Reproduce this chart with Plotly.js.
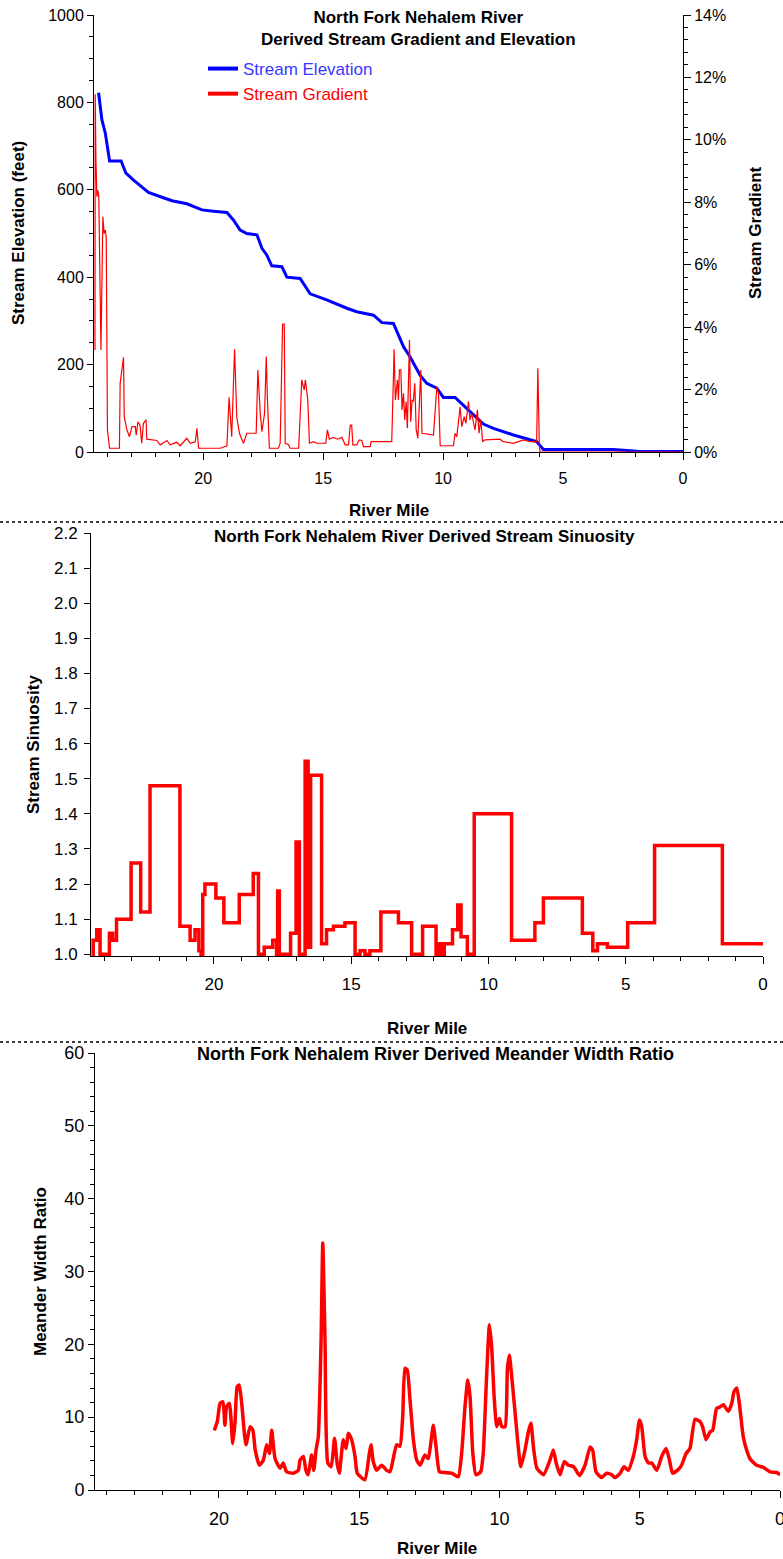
<!DOCTYPE html>
<html><head><meta charset="utf-8">
<script src="https://cdn.plot.ly/plotly-3.0.1.min.js"></script>
<style>html,body{margin:0;padding:0;background:#fff}#chart{width:783px;height:1559px}</style>
</head><body><div id="chart"></div>
<script>
// ---- Chart 1: elevation (feet) and gradient (%) vs river mile ----
const elevRM = [24.36,24.22,24.08,23.9,23.42,23.22,22.9,22.55,22.28,21.72,21.3,20.68,20.33,20.05,19.57,19.01,18.74,18.46,18.18,17.76,17.55,17.35,17.14,16.72,16.51,15.96,15.54,14.85,14.01,13.6,12.9,12.55,12.07,11.79,11.65,11.38,10.96,10.68,10.26,9.99,9.5,8.94,8.32,7.9,7.07,6.1,5.82,2.9,1.93,0];
const elevFt = [822,760,730,666,666,638,622,607,594,583,575,568,561,554,551,548,531,508,500,497,466,451,426,424,400,397,362,348,329,321,313,296,294,260,241,218,176,157,146,125,125,96,64,54,39,24,6,6,2,1];

const gradRM = [24.51,24.50,24.47,24.43,24.39,24.35,24.26,24.18,24.13,24.08,24.04,23.99,23.90,23.49,23.46,23.32,23.29,23.18,23.07,22.97,22.83,22.79,22.72,22.63,22.56,22.49,22.38,22.35,21.93,21.79,21.51,21.38,21.10,20.96,20.68,20.54,20.33,20.26,20.19,19.29,19.01,18.92,18.81,18.69,18.60,18.49,18.32,18.18,17.79,17.72,17.62,17.55,17.44,17.37,17.32,17.24,16.86,16.79,16.69,16.62,16.58,16.44,16.38,16.02,15.89,15.79,15.74,15.64,15.57,15.40,15.26,14.89,14.82,14.74,14.57,14.40,14.22,14.08,13.94,13.87,13.81,13.76,13.60,13.49,13.39,13.32,13.04,13.00,12.14,12.04,11.99,11.90,11.86,11.82,11.76,11.71,11.65,11.60,11.54,11.49,11.40,11.35,11.29,11.24,11.18,11.12,11.05,10.99,10.93,10.88,10.40,10.26,10.19,10.12,9.57,9.50,9.43,9.29,9.22,9.12,9.05,8.94,8.88,8.81,8.67,8.57,8.50,8.43,8.35,8.25,7.63,7.49,7.07,6.65,6.38,6.10,6.05,5.99,5.96,0];
const gradPct = [3.27,11.46,9.36,8.18,8.39,8.18,3.27,7.54,7.0,7.11,6.89,0.71,0.12,0.12,2.2,3.03,1.13,0.71,0.49,0.81,0.81,0.54,0.97,0.86,0.28,0.92,1.03,0.41,0.37,0.23,0.37,0.23,0.31,0.2,0.44,0.28,0.33,0.76,0.12,0.12,0.2,1.75,0.49,3.29,1.13,0.6,0.28,0.6,0.6,2.63,1.24,0.65,1.24,3.06,1.67,0.12,0.12,0.28,4.1,4.1,0.28,0.23,0.12,0.12,2.31,1.99,2.31,1.67,0.28,0.33,0.28,0.28,0.71,0.41,0.47,0.41,0.47,0.23,0.23,0.86,0.86,0.23,0.23,0.39,0.37,0.17,0.17,0.33,0.33,3.29,1.67,2.31,1.67,2.63,2.63,1.35,1.88,1.03,1.62,0.76,3.59,0.97,1.67,1.62,2.2,0.71,0.44,1.56,2.63,0.6,0.54,2.09,1.88,0.2,0.2,0.6,0.49,1.45,0.81,1.13,0.92,1.62,1.03,1.24,0.71,1.35,0.6,1.03,0.33,0.39,0.41,0.33,0.28,0.39,0.33,0.33,2.68,0.28,0.0,0.0];

// ---- Chart 2: sinuosity (step segments, start RM of each segment) ----
const sinRM = [24.46,24.40,24.27,24.15,23.81,23.69,23.55,23.02,22.67,22.33,21.24,20.87,20.69,20.55,20.47,20.41,20.33,19.93,19.64,19.08,18.57,18.38,18.17,17.86,17.72,17.68,17.62,17.21,17.01,16.89,16.68,16.63,16.60,16.57,16.54,16.51,16.48,16.08,15.90,15.65,15.23,14.86,14.68,14.50,14.32,13.92,13.28,12.80,12.40,11.91,11.79,11.71,11.61,11.31,11.12,11.00,10.77,10.52,9.16,8.31,8.00,6.58,6.20,6.03,5.67,4.93,3.95,1.48,0];
const sinVal = [1.00,1.04,1.07,1.00,1.06,1.04,1.10,1.26,1.12,1.48,1.08,1.04,1.07,1.01,1.00,1.17,1.20,1.16,1.09,1.17,1.23,1.00,1.02,1.04,1.00,1.18,1.00,1.06,1.32,1.00,1.55,1.02,1.55,1.02,1.50,1.02,1.51,1.03,1.07,1.08,1.09,1.00,1.01,1.00,1.01,1.12,1.09,1.00,1.08,1.00,1.03,1.00,1.03,1.07,1.14,1.05,1.00,1.40,1.04,1.09,1.16,1.06,1.01,1.03,1.02,1.09,1.31,1.03,1.03];

// ---- Chart 3: meander width ratio ----
const mwrRM = [20.17,20.06,19.96,19.86,19.79,19.73,19.63,19.51,19.43,19.35,19.28,19.19,19.04,18.89,18.79,18.71,18.56,18.42,18.30,18.20,18.12,18.00,17.82,17.71,17.59,17.35,17.17,17.11,16.99,16.90,16.82,16.70,16.62,16.54,16.46,16.36,16.30,16.22,16.12,16.00,15.88,15.79,15.71,15.57,15.47,15.39,15.27,15.15,15.07,14.80,14.64,14.58,14.50,14.38,14.20,14.02,13.90,13.67,13.55,13.45,13.37,13.29,13.19,13.07,12.95,12.83,12.66,12.54,12.45,12.36,12.26,12.14,11.94,11.70,11.47,11.35,11.23,11.13,11.05,10.95,10.84,10.67,10.58,10.46,10.36,10.28,10.19,10.10,10.00,9.92,9.80,9.72,9.65,9.53,9.41,9.24,9.09,8.97,8.88,8.79,8.67,8.43,8.22,8.08,7.98,7.84,7.69,7.54,7.36,7.15,6.95,6.77,6.68,6.56,6.36,6.18,6.00,5.88,5.70,5.56,5.41,5.23,5.11,5.01,4.93,4.81,4.69,4.57,4.39,4.22,4.06,3.94,3.83,3.63,3.51,3.35,3.21,3.03,2.85,2.76,2.64,2.49,2.40,2.26,2.14,2.02,1.84,1.72,1.64,1.54,1.45,1.31,1.19,1.07,0.83,0.59,0.36,0.12,0.0];
const mwrVal = [8.2,9.4,11.9,12.1,8.9,11.4,11.9,6.4,9.2,14.2,14.4,11.9,6.2,8.7,8.2,5.5,3.4,4.1,6.2,5.0,8.2,4.3,3.0,3.7,2.5,2.3,2.7,4.1,4.6,2.7,2.1,4.8,2.7,5.5,7.3,20.6,33.9,20.6,3.7,3.2,7.1,3.7,2.3,6.9,5.7,7.8,6.9,4.6,2.3,1.4,5.0,6.2,3.9,2.7,3.4,2.7,2.5,6.2,6.0,10.1,16.7,16.5,12.4,6.9,4.1,3.4,4.8,4.3,6.4,8.9,5.9,2.5,2.4,2.3,1.8,5.0,11.4,15.1,12.8,5.0,2.1,2.5,5.0,15.6,22.7,19.7,12.8,8.7,9.8,8.7,8.7,16.5,18.5,14.2,9.2,3.2,5.5,8.0,9.2,5.9,3.0,2.1,3.9,5.5,3.7,2.1,3.9,3.4,3.2,2.0,3.4,5.9,5.5,2.5,1.7,2.3,2.1,1.7,2.3,3.2,2.7,4.6,6.9,9.6,8.7,4.6,3.7,3.7,2.7,4.6,5.7,4.1,2.3,2.8,3.4,5.0,5.7,9.7,9.4,8.7,6.9,8.0,8.2,11.2,11.4,11.7,10.8,11.9,13.5,14.0,11.9,7.3,5.5,4.3,3.4,3.1,2.5,2.4,2.1];

// ---- text ----
const titleTop = 'North Fork Nehalem River<br>Derived Stream Gradient and Elevation';
const titleMid = 'North Fork Nehalem River Derived Stream Sinuosity';
const titleBot = 'North Fork Nehalem River Derived Meander Width Ratio';
const xTitle = 'River Mile';
const yTitleElev = 'Stream Elevation (feet)';
const yTitleGrad = 'Stream Gradient';
const yTitleSin = 'Stream Sinuosity';
const yTitleMwr = 'Meander Width Ratio';
const nameElev = 'Stream Elevation';
const nameGrad = 'Stream Gradient';
const riverMileTicks = [20,15,10,5,0];

const W = 783, H = 1559;
const fx = p => p / W;
const fy = p => 1 - p / H;
const FONT = '"Liberation Sans", Arial, sans-serif';
const RED = '#ff0000', BLUE = '#0000ff';

function ax(extra) {
  return Object.assign({
    showgrid:false, zeroline:false, showline:true, linecolor:'#000', linewidth:1,
    ticks:'outside', tickcolor:'#000', ticklen:6, tickwidth:1, ticklabeloverflow:'allow',
    tickfont:{family:FONT, size:16, color:'#000'}, fixedrange:true
  }, extra);
}
const minorX = {dtick:1, tick0:0, ticks:'outside', ticklen:4, tickcolor:'#000', showgrid:false};

const traces = [
  {x:gradRM, y:gradPct, xaxis:'x', yaxis:'y2', mode:'lines', line:{color:RED, width:1.2}, showlegend:false, hoverinfo:'skip'},
  {x:elevRM, y:elevFt, xaxis:'x', yaxis:'y', mode:'lines', line:{color:BLUE, width:3}, showlegend:false, hoverinfo:'skip'},
  {x:[null], y:[null], xaxis:'x', yaxis:'y', mode:'lines', line:{color:BLUE, width:4},
   name:'<span style="color:#3838ff">'+nameElev+'</span>', showlegend:true},
  {x:[null], y:[null], xaxis:'x', yaxis:'y', mode:'lines', line:{color:RED, width:4},
   name:'<span style="color:#ff0000">'+nameGrad+'</span>', showlegend:true},
  {x:sinRM, y:sinVal, xaxis:'x2', yaxis:'y3', mode:'lines', line:{color:RED, width:3.5, shape:'hv'}, showlegend:false, hoverinfo:'skip'},
  {x:mwrRM, y:mwrVal, xaxis:'x3', yaxis:'y4', mode:'lines', line:{color:RED, width:3.5, shape:'spline', smoothing:0.5}, showlegend:false, hoverinfo:'skip'}
];

function ann(text, xp, yp, size, angle, extra) {
  return Object.assign({text:text, xref:'paper', yref:'paper', x:fx(xp), y:fy(yp),
    xanchor:'center', yanchor:'middle', showarrow:false, textangle:angle||0,
    font:{family:FONT, size:size, color:'#000'}}, extra||{});
}

const layout = {
  width:W, height:H, margin:{l:0,r:0,t:0,b:0}, paper_bgcolor:'#fff', plot_bgcolor:'rgba(0,0,0,0)',
  showlegend:true,
  legend:{x:fx(203), y:fy(51), xanchor:'left', yanchor:'top', bgcolor:'rgba(0,0,0,0)',
          font:{family:FONT, size:17}, itemwidth:30, tracegroupgap:0},
  xaxis: ax({domain:[fx(94), fx(683)], anchor:'y', range:[24.55,0], tickvals:riverMileTicks, ticklen:7, minor:minorX,
             ticklabelstandoff:5}),
  yaxis: ax({domain:[fy(452), fy(15)], anchor:'x', range:[0,1000], dtick:200, ticklen:6,
             minor:{dtick:50, ticks:'outside', ticklen:4, tickcolor:'#000'}}),
  yaxis2: ax({overlaying:'y', side:'right', anchor:'x', range:[0,14], dtick:2, ticksuffix:'%', ticklen:7,
             minor:{dtick:0.4, ticks:'outside', ticklen:4, tickcolor:'#000'}}),
  xaxis2: ax({domain:[fx(91), fx(763)], anchor:'y3', range:[24.48,0], tickvals:riverMileTicks, ticklen:7, minor:minorX,
              ticklabelstandoff:6, tickfont:{family:FONT, size:17, color:'#000'}}),
  yaxis3: ax({domain:[fy(956), fy(533)], anchor:'x2', range:[0.995,2.2], tickvals:[1.0,1.1,1.2,1.3,1.4,1.5,1.6,1.7,1.8,1.9,2.0,2.1,2.2],
              tickformat:'.1f', ticklen:6, ticklabelstandoff:3, tickfont:{family:FONT, size:17, color:'#000'}}),
  xaxis3: ax({domain:[fx(95), fx(780)], anchor:'y4', range:[24.42,0], tickvals:riverMileTicks, ticklen:7, minor:minorX,
              ticklabelstandoff:5, tickfont:{family:FONT, size:18, color:'#000'}}),
  yaxis4: ax({domain:[fy(1490), fy(1053)], anchor:'x3', range:[0,60], dtick:10, ticklen:6,
              minor:{dtick:2, ticks:'outside', ticklen:4, tickcolor:'#000'}, tickfont:{family:FONT, size:18, color:'#000'}}),
  annotations: [
    ann('<b>'+titleTop+'</b>', 418, 29, 17),
    ann('<b>'+titleMid+'</b>', 424, 536, 17),
    ann('<b>'+titleBot+'</b>', 435, 1054, 18),
    ann('<b>'+xTitle+'</b>', 389, 510, 17),
    ann('<b>'+xTitle+'</b>', 427, 1028, 17),
    ann('<b>'+xTitle+'</b>', 437, 1548, 17),
    ann('<b>'+yTitleElev+'</b>', 18, 233, 17, -90),
    ann('<b>'+yTitleGrad+'</b>', 755, 233, 17, -90),
    ann('<b>'+yTitleSin+'</b>', 33, 745, 17, -90),
    ann('<b>'+yTitleMwr+'</b>', 40, 1272, 17, -90)
  ],
  shapes: [
    {type:'line', xref:'paper', yref:'paper', x0:0, x1:1, y0:fy(522), y1:fy(522), line:{color:'#000', width:1.5, dash:'dot'}},
    {type:'line', xref:'paper', yref:'paper', x0:0, x1:1, y0:fy(1042), y1:fy(1042), line:{color:'#000', width:1.5, dash:'dot'}}
  ]
};

Plotly.newPlot('chart', traces, layout, {staticPlot:true, displayModeBar:false});
</script>
</body></html>
